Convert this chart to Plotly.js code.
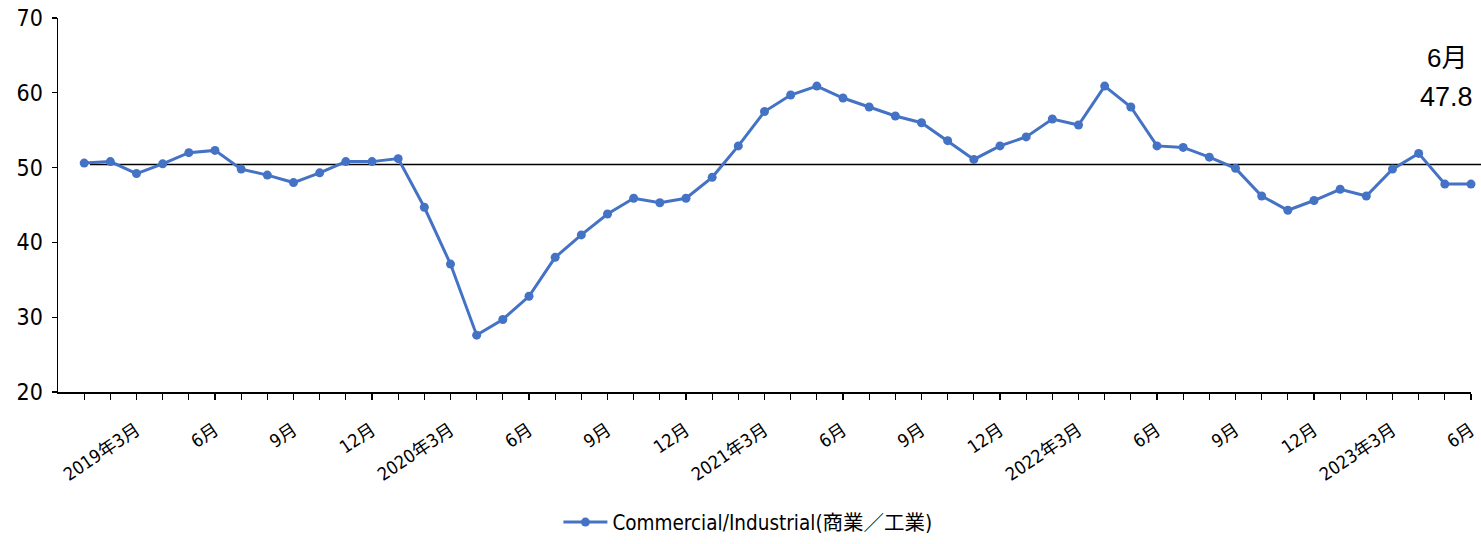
<!DOCTYPE html>
<html>
<head>
<meta charset="utf-8">
<script src="https://cdn.plot.ly/plotly-3.0.1.min.js"></script>
<style>
html,body{margin:0;padding:0;background:#fff;}
#chart{width:1481px;height:544px;}
</style>
</head>
<body>
<div id="chart"></div>
<script>
// Month index 0 = 2019年1月 ... 53 = 2023年6月
const months = [
  "2019-01","2019-02","2019-03","2019-04","2019-05","2019-06","2019-07","2019-08","2019-09","2019-10","2019-11","2019-12",
  "2020-01","2020-02","2020-03","2020-04","2020-05","2020-06","2020-07","2020-08","2020-09","2020-10","2020-11","2020-12",
  "2021-01","2021-02","2021-03","2021-04","2021-05","2021-06","2021-07","2021-08","2021-09","2021-10","2021-11","2021-12",
  "2022-01","2022-02","2022-03","2022-04","2022-05","2022-06","2022-07","2022-08","2022-09","2022-10","2022-11","2022-12",
  "2023-01","2023-02","2023-03","2023-04","2023-05","2023-06"
];
const commercialIndustrial = [
  50.6, 50.8, 49.2, 50.5, 52.0, 52.3, 49.8, 49.0, 48.0, 49.3, 50.8, 50.8,
  51.2, 44.7, 37.1, 27.6, 29.7, 32.8, 38.0, 41.0, 43.8, 45.9, 45.3, 45.9,
  48.7, 52.9, 57.5, 59.7, 60.9, 59.3, 58.1, 56.9, 56.0, 53.6, 51.1, 52.9,
  54.1, 56.5, 55.7, 60.9, 58.1, 52.9, 52.7, 51.4, 49.9, 46.2, 44.3, 45.6,
  47.1, 46.2, 49.8, 51.9, 47.8, 47.8
];
const tickLabels = [
  "", "", "2019年3月", "", "", "6月", "", "", "9月", "", "", "12月",
  "", "", "2020年3月", "", "", "6月", "", "", "9月", "", "", "12月",
  "", "", "2021年3月", "", "", "6月", "", "", "9月", "", "", "12月",
  "", "", "2022年3月", "", "", "6月", "", "", "9月", "", "", "12月",
  "", "", "2023年3月", "", "", "6月"
];
const yTicks = [20, 30, 40, 50, 60, 70];
const seriesName = "Commercial/Industrial(商業／工業)";
const threshold = 50.4;
const lastLabelMonth = "6月";
const lastLabelValue = "47.8";

const idx = months.map((m, i) => i);
const FONT = "'DejaVu Sans Condensed', 'Noto Sans CJK JP', sans-serif";

const trace = {
  x: idx,
  y: commercialIndustrial,
  type: "scatter",
  mode: "lines+markers",
  name: seriesName,
  line: {color: "#4472C4", width: 3},
  marker: {color: "#4472C4", size: 9},
  cliponaxis: false,
  hoverinfo: "x+y"
};

const layout = {
  width: 1481,
  height: 544,
  margin: {l: 58, r: 10, t: 18, b: 152},
  paper_bgcolor: "#fff",
  plot_bgcolor: "#fff",
  showlegend: true,
  font: {family: FONT, color: "#000"},
  xaxis: {
    range: [-1, 53],
    tickmode: "array",
    tickvals: idx,
    ticktext: tickLabels,
    tickangle: -34,
    ticks: "outside",
    ticklen: 6,
    tickcolor: "#000",
    tickwidth: 1.3,
    ticklabelstandoff: 13,
    showline: true,
    linecolor: "#000",
    linewidth: 1.5,
    showgrid: false,
    zeroline: false,
    tickfont: {family: FONT, size: 18, color: "#000"},
    automargin: false
  },
  yaxis: {
    range: [20, 70.001],
    tickmode: "array",
    tickvals: yTicks,
    ticktext: yTicks.map(String),
    ticks: "outside",
    ticklen: 5,
    tickcolor: "#000",
    tickwidth: 1.3,
    ticklabelstandoff: 4,
    showline: true,
    linecolor: "#000",
    linewidth: 1.5,
    showgrid: false,
    zeroline: false,
    tickfont: {family: FONT, size: 23, color: "#000"},
    automargin: false
  },
  shapes: [{
    type: "line",
    xref: "paper", yref: "y",
    x0: 0.0226, x1: 1.01,
    y0: threshold, y1: threshold,
    line: {color: "#000", width: 1.5},
    layer: "below"
  }],
  annotations: [
    {xref: "paper", yref: "paper", x: 0.983, y: 0.893, text: lastLabelMonth,
     showarrow: false, xanchor: "center", yanchor: "middle",
     font: {family: "'Liberation Sans', Arial, 'Noto Sans CJK JP', sans-serif", size: 26, color: "#000"}},
    {xref: "paper", yref: "paper", x: 0.983, y: 0.789, text: lastLabelValue,
     showarrow: false, xanchor: "center", yanchor: "middle",
     font: {family: "'Liberation Sans', Arial, sans-serif", size: 27, color: "#000"}}
  ],
  legend: {
    orientation: "h",
    xref: "container", yref: "container",
    x: 0.505, xanchor: "center",
    y: 0.04, yanchor: "middle",
    itemwidth: 44,
    font: {family: FONT, size: 20.5, color: "#000"},
    bgcolor: "rgba(0,0,0,0)"
  }
};

Plotly.newPlot("chart", [trace], layout, {displayModeBar: false, staticPlot: true});
</script>
</body>
</html>
